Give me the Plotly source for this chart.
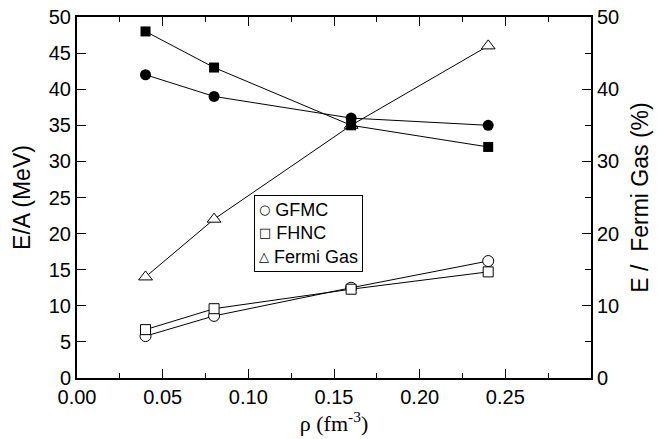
import plotly.graph_objects as go

rho = [0.04, 0.08, 0.16, 0.24]
gfmc = [5.8, 8.6, 12.5, 16.2]
fhnc = [6.7, 9.6, 12.3, 14.7]
fermi_gas = [14, 22, 35, 46]
ratio_gfmc = [42, 39, 36, 35]
ratio_fhnc = [48, 43, 35, 32]

x_ticks = [0.0, 0.05, 0.10, 0.15, 0.20, 0.25]
x_ticktext = ["0.00", "0.05", "0.10", "0.15", "0.20", "0.25"]
legend_symbols = ["○", "□", "△"]
legend_labels = ["GFMC", "FHNC", "Fermi Gas"]

fig = go.Figure()
line = dict(color="black", width=1)
open_line = dict(color="black", width=1)

fig.add_trace(go.Scatter(x=rho, y=ratio_gfmc, mode="lines+markers", yaxis="y2",
                         line=line, marker=dict(symbol="circle", size=11, color="black")))
fig.add_trace(go.Scatter(x=rho, y=ratio_fhnc, mode="lines+markers", yaxis="y2",
                         line=line, marker=dict(symbol="square", size=10, color="black")))
fig.add_trace(go.Scatter(x=rho, y=gfmc, mode="lines+markers", name="GFMC",
                         line=line, marker=dict(symbol="circle", size=11, color="white", line=open_line)))
fig.add_trace(go.Scatter(x=rho, y=fhnc, mode="lines+markers", name="FHNC",
                         line=line, marker=dict(symbol="square", size=10, color="white", line=open_line)))
fig.add_trace(go.Scatter(x=rho, y=fermi_gas, mode="lines+markers", name="Fermi Gas",
                         line=line, marker=dict(symbol="triangle-up", size=12, color="white", line=open_line)))

sans = "Liberation Sans, Arial, sans-serif"
tickfont = dict(family=sans, size=20, color="black")

legend_text = "<br>".join(
    f'<span style="font-family:DejaVu Sans;font-size:13px;baseline-shift:2px">{s}</span> {t}'
    for s, t in zip(legend_symbols, legend_labels))

fig.update_layout(
    width=672, height=439,
    margin=dict(l=77, r=81, t=17, b=61, autoexpand=False),
    plot_bgcolor="white", paper_bgcolor="white",
    font=dict(family=sans, color="black"),
    showlegend=False,
    xaxis=dict(range=[0, 0.3], tickmode="array", tickvals=x_ticks, ticktext=x_ticktext,
               ticks="inside", ticklen=9, tickwidth=1, tickcolor="black",
               minor=dict(dtick=0.025, tick0=0, ticks="inside", ticklen=5, tickwidth=1, tickcolor="black"),
               showline=True, linecolor="black", linewidth=2, mirror="ticks",
               showgrid=False, zeroline=False, tickfont=tickfont, automargin=False,
               title=dict(text="ρ (fm<sup>-3</sup>)", standoff=6,
                          font=dict(family="Liberation Serif, Times New Roman, serif", size=22))),
    yaxis=dict(range=[0, 50], dtick=5, ticks="inside", ticklen=9, tickwidth=1, tickcolor="black",
               showline=True, linecolor="black", linewidth=2, automargin=False,
               showgrid=False, zeroline=False, tickfont=tickfont,
               title=dict(text="E/A (MeV)", standoff=12, font=dict(size=23))),
    yaxis2=dict(range=[0, 50], dtick=10, overlaying="y", side="right",
                ticks="inside", ticklen=9, tickwidth=1, tickcolor="black",
                minor=dict(dtick=5, ticks="inside", ticklen=6, tickwidth=1, tickcolor="black"),
                showline=True, linecolor="black", linewidth=2, automargin=False,
                showgrid=False, zeroline=False, tickfont=tickfont,
                title=dict(text="E /  Fermi Gas (%)", standoff=14, font=dict(size=23))),
    annotations=[dict(
        text=legend_text, xref="paper", yref="paper",
        x=0.344, y=0.507, xanchor="left", yanchor="top", align="left", showarrow=False,
        font=dict(family=sans, size=18, color="black"),
        bordercolor="black", borderwidth=1, borderpad=4, bgcolor="white")],
)

fig.write_html("out.html")
